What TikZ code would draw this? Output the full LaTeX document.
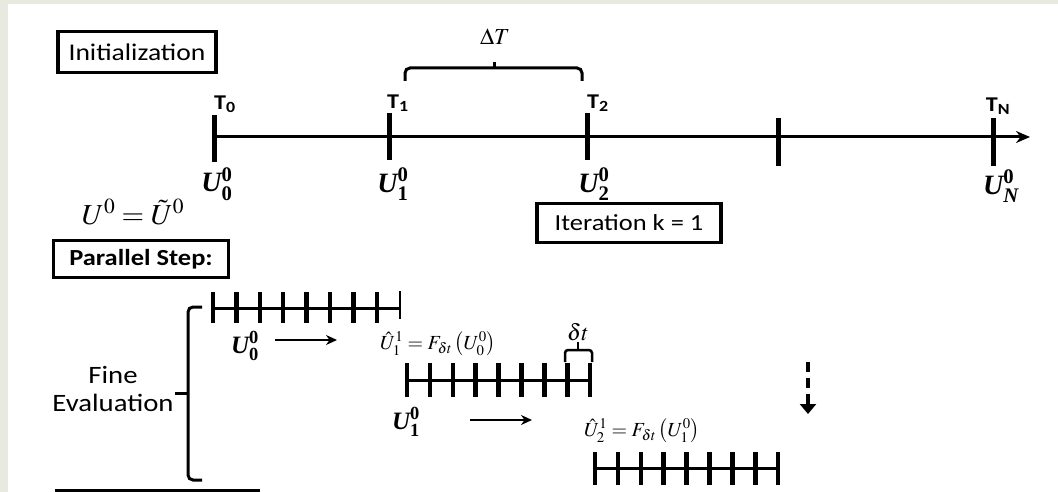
\documentclass[tikz,border=0pt]{standalone}
\usepackage{amsmath}
\usepackage{mathptmx}
\usepackage[no-math]{fontspec}
\newfontfamily\lab{Carlito}[FakeStretch=1.15]
\newfontfamily\tms{Liberation Serif}
\usetikzlibrary{positioning, arrows.meta}
\definecolor{slidebg}{RGB}{232,233,223}
% bold U with sub- and superscript
\newcommand\bu[2]{\ensuremath{\text{\tms\bfseries\itshape U}^{\text{\tms\bfseries #2}}_{\text{\tms\bfseries #1}}}}
\tikzset{
  titlebox/.style={rectangle, draw=black, line width=3.5pt, font=\lab\fontsize{24}{26}\selectfont, inner sep=0pt, align=center},
  tlabel/.style={font=\lab\bfseries\fontsize{21}{23}\selectfont, inner sep=0pt},
  ulabel/.style={font=\fontsize{28}{30}\selectfont, inner sep=0pt},
  flabel/.style={font=\fontsize{20}{22}\selectfont, inner sep=0pt},
  coarsetick/.style={line width=5pt},
  finetick/.style={line width=4.5pt},
  timeline/.style={line width=3pt},
  arrow/.style={line width=2.3pt, -{Stealth[length=11pt, width=10pt]}},
  bracket/.style={line width=3pt, rounded corners=5pt},
}
\begin{document}
\begin{tikzpicture}[x=1pt, y=-1pt]
  % slide background
  \fill[slidebg] (0,0) rectangle (1058,492);
  \fill[white] (8,4) rectangle (1058,492);
  \useasboundingbox (0,0) rectangle (1058,492);

  % boxes
  \node[titlebox, minimum width=158pt, minimum height=41pt] (init) at (137,52) {Initialization};
  \node[titlebox, font=\lab\fontsize{23}{26}\selectfont, minimum width=184pt, minimum height=39pt] (iter) at (629,223) {Iteration k = 1};
  \node[titlebox, font=\lab\bfseries\fontsize{23}{26}\selectfont, minimum width=175pt, minimum height=37pt] (par) at (141,259) {Parallel Step:};

  % coarse time line
  \coordinate (c0) at (214,137);
  \coordinate (axend) at (1030,137);
  \draw[timeline, -{Stealth[length=14pt, width=12pt]}] (c0) -- (axend);
  \foreach \x/\a/\b in {214/115/162, 389/113/160, 587/113/160, 778/118/166, 993/118/166}
    \draw[coarsetick] (\x,\a) -- (\x,\b);

  \node[tlabel] (lt0) at (225,104) {T\textsubscript{0}};
  \node[tlabel] (lt1) at (398,103) {T\textsubscript{1}};
  \node[tlabel] (lt2) at (598,103) {T\textsubscript{2}};
  \node[tlabel] (ltn) at (998,106) {T\textsubscript{N}};

  \node[ulabel] (u0) at (217,184) {\bu{0}{0}};
  \node[ulabel] (u1) at (393,184) {\bu{1}{0}};
  \node[ulabel] (u2) at (594,184) {\bu{2}{0}};
  \node[ulabel] (un) at (1001,186) {\bu{\itshape N}{0}};
  \node[ulabel, font=\fontsize{29}{31}\selectfont] (uinit) at (133,212) {$U^0=\tilde{U}^0$};

  % Delta T
  \coordinate (b1) at (405,81);
  \coordinate (b2) at (582,81);
  \coordinate (bm) at (494,68);
  \draw[bracket] (b1) |- (bm) -| (b2);
  \draw[bracket] (bm) -- ++(0,-6);
  \node[flabel, font=\fontsize{23}{25}\selectfont] (dT) at (495,37) {$\Delta T$};

  % fine propagators
  \foreach \i in {0,...,7}
    \draw[finetick] (213+\i*23.4,292) -- (213+\i*23.4,323);
  \draw[line width=1.5pt] (400,291) -- (400,319);
  \draw[timeline] (213,308) -- (400,308);

  \foreach \i in {0,...,8}
    \draw[finetick] (407+\i*22.9,363) -- (407+\i*22.9,397);
  \draw[timeline] (407,380) -- (590,380);

  \foreach \i in {0,...,8}
    \draw[finetick] (595+\i*22.9,452) -- (595+\i*22.9,485);
  \draw[timeline] (595,468) -- (778,468);

  % delta t
  \coordinate (d1) at (565,362);
  \coordinate (d2) at (592,362);
  \coordinate (dm) at (578,350);
  \draw[bracket, line width=2.5pt, rounded corners=3pt] (d1) |- (dm) -| (d2);
  \draw[bracket, line width=2.5pt] (dm) -- ++(0,-8);
  \node[flabel, font=\fontsize{23}{25}\selectfont] (dt) at (578,332) {$\delta t$};

  % labels of the fine runs
  \node[ulabel, font=\fontsize{25}{27}\selectfont] (f0) at (245,346) {\bu{0}{0}};
  \node[flabel] (h1) at (438,344) {$\hat{U}_1^1 = F_{\delta t}\left(U_0^0\right)$};
  \node[ulabel, font=\fontsize{25}{27}\selectfont] (f1) at (406,422) {\bu{1}{0}};
  \node[flabel] (h2) at (642,431) {$\hat{U}_2^1 = F_{\delta t}\left(U_1^0\right)$};

  \coordinate (a1s) at (275,340);
  \coordinate (a1e) at (337,340);
  \draw[arrow] (a1s) -- (a1e);
  \coordinate (a2s) at (470,420);
  \coordinate (a2e) at (532,420);
  \draw[arrow] (a2s) -- (a2e);

  \coordinate (ds) at (808,362);
  \coordinate (de) at (808,414);
  \draw[line width=3.5pt, dash pattern=on 10pt off 6pt, -{Triangle[length=10pt, width=16pt]}] (ds) -- (de);

  % fine evaluation bracket
  \coordinate (e1) at (202,307);
  \coordinate (e2) at (202,480);
  \coordinate (em) at (188,393);
  \draw[bracket] (e1) -| (em) |- (e2);
  \draw[bracket] (em) -- ++(-13,0);
  \node[font=\lab\fontsize{25}{28}\selectfont, align=center] (fine) at (113,389) {Fine\\Evaluation};

  % next box (cut off)
  \draw[line width=3.5pt] (55,491) -- (260,491);
\end{tikzpicture}
\end{document}
